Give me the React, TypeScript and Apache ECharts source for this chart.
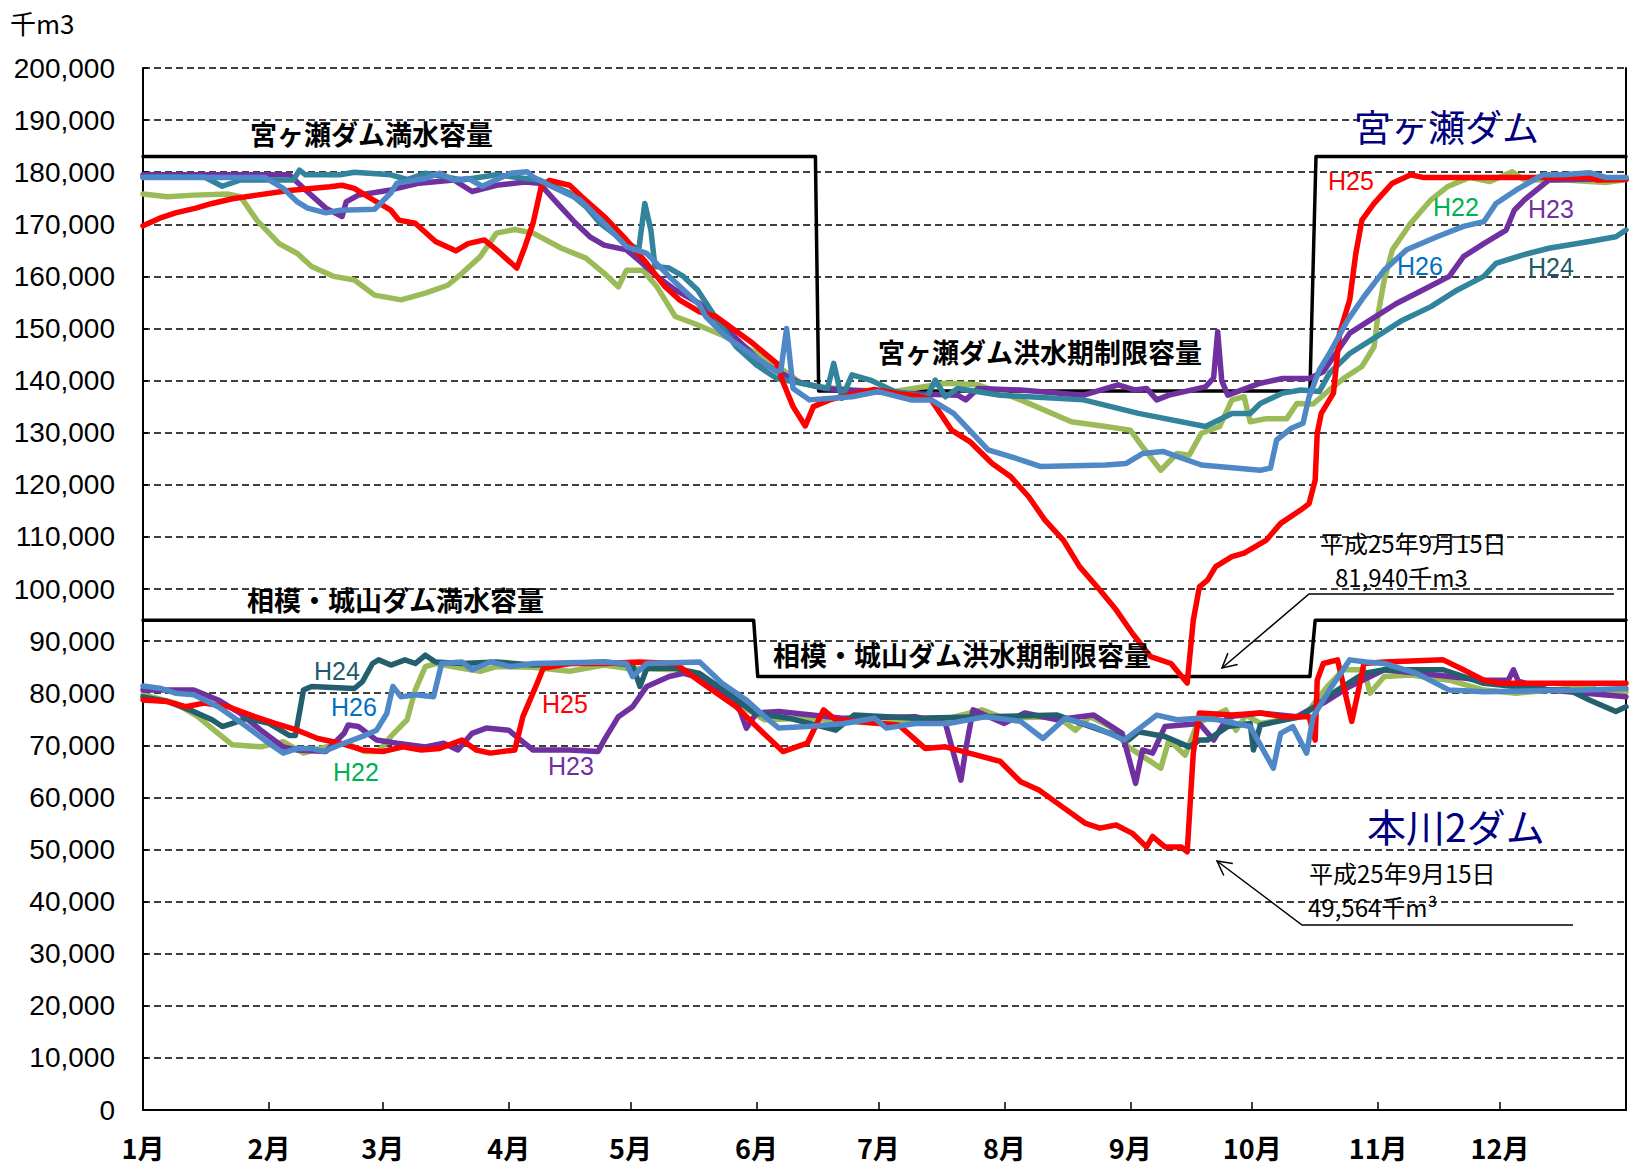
import React, { useEffect, useRef } from "react";
import * as echarts from "echarts";

// ---- axes ----
const MONTH_STARTS = [0, 31, 59, 90, 120, 151, 181, 212, 243, 273, 304, 334];
const MONTH_LABELS = ["1月", "2月", "3月", "4月", "5月", "6月", "7月", "8月", "9月", "10月", "11月", "12月"];
const X_MAX = 365;
const Y_MIN = 0;
const Y_MAX = 200000;
const Y_STEP = 10000;

// ---- capacity lines (千m3) ----
const miyagaseCapacity = [[0, 183000], [165.5, 183000], [166.3, 138000], [287.2, 138000], [288.7, 183000], [365, 183000]];
const honkawaCapacity = [[0, 94000], [150.3, 94000], [151.3, 83200], [287.2, 83200], [288.5, 94000], [365, 94000]];

// ---- 宮ヶ瀬ダム [day of year, 千m3] ----
const miyagaseH22 = [[0,175800],[6,175300],[12.5,175600],[21,175800],[24,175300],[28,170800],[33.5,166300],[38,164400],[41.5,161900],[47,160000],[52,159300],[57,156400],[63.5,155500],[69.5,156800],[75,158300],[78.5,160600],[83,163800],[87,168300],[91.5,169000],[96,168300],[103,165400],[109,163500],[113.5,160600],[117,158000],[119,161200],[123,161200],[126.5,158000],[131,152300],[135.5,151000],[143.5,148400],[154,144000],[162,139500],[166.5,138800],[174.5,138200],[185,137900],[197.5,139500],[205.5,139200],[216,136300],[228.5,132100],[237,131200],[243,130500],[246,127300],[250.5,122800],[254.5,126000],[257.5,125700],[260.5,129900],[265,131200],[268,136300],[271,136900],[272.5,132100],[276.5,132700],[281.5,132700],[284,135600],[288,135500],[292,138200],[296,140700],[300,142700],[303,146500],[304,152900],[305.5,159300],[307.5,165100],[312,170200],[317,174700],[321,177200],[326.5,179000],[331.5,178200],[337,180100],[340,178500],[350,178500],[360,178000],[365,178600]];
const miyagaseH23 = [[0,179500],[36,179500],[40,176600],[45,173100],[49,171500],[50,174300],[53,175600],[61,176600],[68,177900],[76.5,178500],[81,176300],[87,177500],[94,178100],[97.5,177900],[102,174000],[106.5,170200],[110,167600],[113.5,166000],[119,165100],[122,163100],[126.5,160000],[131,157400],[137,154800],[152,143600],[161,139800],[167.5,138500],[185,137600],[200.5,137200],[202.5,136300],[205.5,138500],[216,138200],[231.5,137200],[240,139200],[244,138200],[247,138500],[249.5,136300],[252.5,137200],[261.5,138800],[263.5,140500],[264.5,149400],[265.5,140000],[267,137200],[275,139500],[280.5,140400],[287,140400],[290.5,141700],[297,149100],[302,151600],[308.5,154800],[315,157400],[321.5,160000],[325,163800],[330,166300],[335.5,168900],[337.5,172700],[340,174700],[346,178500],[365,178800]];
const miyagaseH24 = [[0,179100],[15,179100],[19.5,177300],[24,178500],[31,178500],[37,178500],[38.5,180400],[40,179500],[48.5,179500],[52,180000],[61,179500],[65,178600],[69.5,179800],[78.5,178500],[87,179500],[94,178800],[97.5,178500],[105,176000],[109,173400],[112.5,170200],[118,167000],[122,165100],[123.5,174000],[125,168900],[126,161900],[129.5,161600],[133,160000],[136.5,157400],[141,152000],[146,146500],[151,143000],[156,140400],[164,139200],[168.5,138500],[170,143300],[172,136600],[174.5,141100],[179,140100],[185,137900],[193,136900],[195,140100],[197.5,136900],[200.5,138500],[211,137200],[231.5,136300],[245,133700],[261.5,131200],[268,133700],[272.5,133700],[275,135600],[280.5,137600],[285,138200],[289.5,137900],[292,141400],[297,145200],[303.5,148400],[310,151600],[317,154200],[323.5,157400],[330,160000],[333,162500],[339.5,164100],[346,165400],[356,166700],[362.5,167600],[365,168900]];
const miyagaseH25 = [[0,169700],[4.5,171300],[8,172200],[13,173100],[17,174000],[22,174900],[28,175600],[36,176500],[46,177200],[49,177500],[52,176900],[56,175000],[61,172700],[63,170800],[67,170200],[72,166700],[77,164900],[80,166300],[84,167000],[87,165100],[92,161600],[94,165700],[96,170200],[98,177200],[100,178400],[105,177500],[108,175300],[113.5,171500],[119,167000],[124,162500],[128.5,158000],[132,155500],[137,153200],[141,152300],[150,147200],[156,143300],[157,140700],[160,135000],[163,131300],[165,135000],[169,136300],[175,137500],[180,138300],[186,137500],[191,137000],[194,136300],[199,130500],[203.5,128300],[209,124100],[213.5,121600],[218,117700],[222,113200],[226.5,109400],[230.5,104300],[235.5,99800],[239.5,96000],[243.5,91500],[248,87000],[253,85700],[257,81940],[258.5,94000],[260,100400],[262,101700],[264,104300],[268,106200],[271,106900],[276.5,109400],[280,112600],[285,115200],[287,116400],[288.5,120900],[289,129900],[290,133700],[293,137600],[294.5,149100],[297,155500],[298.5,164400],[300,170800],[303,174000],[307.5,177900],[312,179500],[315,179000],[325,179000],[341,179000],[356,179000],[358,178500],[365,178600]];
const miyagaseH26 = [[0,179000],[30,179000],[34.5,176900],[38,174300],[40.5,173100],[45,172200],[48.5,172700],[57,172900],[61,176000],[62.5,177900],[69.5,178800],[73,179800],[76.5,178500],[80,178800],[83.5,177300],[90.5,179800],[94.5,180100],[96,179100],[100,177500],[107.5,174700],[113.5,170200],[119,165700],[124,164400],[129.5,160000],[137,154500],[138.5,152300],[143.5,148400],[156,141700],[157,142000],[158.4,150000],[160,138500],[164,136300],[174.5,136900],[181,137900],[189,136300],[194,136300],[199.5,133700],[208,126700],[216,124800],[221,123500],[237,123800],[242,124100],[246,126000],[251,126400],[260.5,123800],[275,122800],[277.5,123200],[279,128600],[282.5,130800],[285.5,131800],[287,136900],[289.5,142000],[292,145200],[296.5,151600],[300.5,156100],[305.5,161200],[311,165100],[318.5,167600],[325,169600],[330,170500],[333,174000],[338,176600],[344.5,179500],[349.5,179500],[356,179900],[360,179000],[365,179000]];

// ---- 本川2ダム (相模・城山) [day of year, 千m3] ----
const honkawaH22 = [[0,79700],[8,78100],[13.5,75500],[17.5,72900],[22,70100],[29,69700],[34.5,70700],[39.5,68500],[45,69700],[50,70400],[54.5,68800],[58,68800],[61,71700],[65,74900],[67,80600],[69.5,85100],[72,85700],[78.5,84800],[83,84200],[87,85100],[96,85000],[105,84200],[113.5,85400],[119,84800],[131,84500],[137,83300],[144,79300],[147.5,77400],[153,74900],[163.5,75200],[181,74200],[197,74900],[206.5,76800],[212,75200],[225,75500],[229.5,72900],[233,75500],[238,73600],[242.5,69700],[250.5,65600],[252.5,71000],[256.5,68100],[259.5,74200],[266.5,76800],[269,72900],[271.5,75800],[275,74200],[285.5,75500],[287,76800],[291.5,81300],[295.5,84500],[300.5,84500],[302,80000],[305.5,83200],[312,83500],[321.5,82500],[330,80600],[338,80000],[356,81300],[358,80600],[365,80300]];
const honkawaH23 = [[0,80600],[12.5,80600],[18.5,78700],[24,76100],[29,72900],[34.5,69700],[38,69100],[45,68800],[49.5,72300],[50.5,73900],[53,73600],[57.5,71000],[62.5,70400],[69.5,69700],[74,70400],[77.5,69100],[81,72300],[84.5,73300],[90,72900],[92.5,71300],[96,69100],[105,69100],[112,68800],[113.5,71000],[117,75500],[120.5,77400],[124,81300],[129.5,83200],[133,83800],[137,83000],[146,78700],[148.5,73300],[151,76200],[156.5,76500],[172,75200],[190,75500],[197.5,74200],[201.3,63300],[202.6,69700],[204.3,76800],[212,74200],[217,76200],[225,74900],[234,75800],[241,72300],[244.3,62700],[246,69100],[248.5,68500],[251.5,73600],[260,74200],[263.5,71000],[267,75500],[275,76200],[284,75500],[287,76800],[290.5,78100],[297,81300],[305.5,84500],[321.5,83200],[330,82500],[336,82500],[337.3,84500],[338.5,82300],[346,80600],[365,79300]];
const honkawaH24 = [[0,79300],[6,78400],[11.5,76800],[17,74900],[19.5,73600],[22,74200],[25.5,75200],[31,74200],[36,71900],[37.5,71900],[39.5,80600],[41.5,81300],[52,80900],[54,82200],[56.5,85700],[58,86400],[61,85400],[64.5,86400],[67,85700],[69.5,87300],[72,86000],[78.5,85700],[87,86000],[96,85400],[105,85700],[113.5,86000],[120.5,85400],[122.3,81300],[124,84800],[131,84800],[137,83800],[144,80000],[150.5,76200],[159,75200],[170.5,72900],[175,75800],[190,75200],[207.5,75500],[225,75800],[238,72300],[242.5,71000],[245,72600],[251.5,71700],[257.5,69700],[260,71000],[262,71000],[267,73600],[272.5,74200],[273.3,69100],[275,73900],[285,75500],[294,80600],[300.5,83800],[305.5,84500],[320,84500],[330,81900],[346,80600],[351,80600],[356,78700],[362.5,76500],[365,77400]];
const honkawaH25 = [[0,78700],[6,78400],[10.5,77400],[15,78100],[21,77400],[27.5,75500],[32.5,74200],[38,72900],[43,71300],[48.5,70400],[54,69100],[59,68800],[64,69700],[68.5,69100],[73,69400],[78.5,71000],[82,69100],[85.5,68500],[91.5,69100],[93.5,75500],[97,81900],[98.5,84800],[105,85700],[113.5,85700],[122,86000],[131,85700],[137,82300],[146,77400],[151,73600],[157.5,68800],[163.5,70400],[167.5,76800],[170.5,74900],[186,73900],[192.5,69400],[197.5,69700],[202,68800],[211,66900],[216,63000],[220.5,61400],[225,58900],[232,55000],[235.5,54100],[239.5,54700],[243.5,53100],[247,50500],[248.5,52500],[251.5,50500],[255.5,50500],[257,49564],[258.5,68500],[260,76200],[268,75800],[275,76200],[280.5,75500],[287,75500],[288.5,71000],[289,82500],[290.5,85700],[294,86400],[295.5,81300],[297.5,74600],[299,80000],[300.5,85700],[305.5,86000],[320,86400],[325,84500],[330,82500],[334,81900],[346,81900],[354.5,81900],[365,81900]];
const honkawaH26 = [[0,81400],[4.5,80900],[8,80000],[12.5,79700],[18.5,77400],[25.5,73600],[31,70400],[34.5,68500],[38,69400],[41.5,69400],[44.5,68800],[48.5,70100],[54,71700],[57.5,72900],[60,76100],[61.5,81300],[63.5,79300],[67,79700],[71.5,79300],[73.5,85700],[78.5,86000],[81,84500],[85.5,86000],[90.5,85100],[96,85700],[113.5,86000],[119,85700],[120.5,83200],[124,85700],[137,86000],[142.5,81900],[148.5,78700],[153,75500],[156.5,73300],[163.5,73600],[172.5,74200],[180,75200],[183,73300],[190,74200],[198.5,74200],[207.5,75500],[216,74600],[221.5,71300],[227,75200],[234,73600],[241.5,71000],[249.5,75800],[254.5,74900],[260,75200],[264.5,74900],[272.5,73600],[278.2,65600],[280,72300],[283,73600],[286.4,68500],[288,75500],[292,80600],[297,86400],[301,86000],[305.5,85700],[313.5,83800],[321.5,80600],[330,80300],[354.5,80600],[365,80900]];

const COLORS = {
  H22: "#9BBB59",
  H23: "#7030A0",
  H24: "#31849B",
  H24low: "#235F6D",
  H25: "#FF0000",
  H26: "#4F88C6",
};
const LABEL_COLORS = { H22: "#00B050", H23: "#7030A0", H24: "#215968", H25: "#FF0000", H26: "#0070C0" };

const JP = '"Noto Sans CJK JP", "Noto Sans", sans-serif';
const LAT = '"Liberation Sans", Arial, sans-serif';

function line(name: string, data: number[][], color: string, width: number, z: number) {
  return {
    type: "line",
    name,
    data,
    symbol: "none",
    showSymbol: false,
    silent: true,
    z,
    lineStyle: { color, width, cap: "round", join: "round" },
    itemStyle: { color },
  };
}

function text(t: string, x: number, y: number, font: string, fill: string, lh?: number) {
  const style: any = {
    text: t,
    font,
    fill,
    textAlign: "left",
    textVerticalAlign: "middle",
    align: "left",
    verticalAlign: "middle",
  };
  if (lh) style.lineHeight = lh;
  return { type: "text", x, y, silent: true, z: 100, style };
}

function arrowHead(tip: number[], from: number[], len = 16, deg = 28) {
  const dx = from[0] - tip[0];
  const dy = from[1] - tip[1];
  const d = Math.hypot(dx, dy);
  const ux = dx / d;
  const uy = dy / d;
  const a = (deg * Math.PI) / 180;
  const rot = (s: number) => [
    tip[0] + len * (ux * Math.cos(s * a) - uy * Math.sin(s * a)),
    tip[1] + len * (ux * Math.sin(s * a) + uy * Math.cos(s * a)),
  ];
  return {
    type: "polyline",
    silent: true,
    z: 100,
    shape: { points: [rot(1), tip, rot(-1)] },
    style: { stroke: "#000", lineWidth: 1.5, fill: null },
  };
}

function leader(points: number[][]) {
  return {
    type: "polyline",
    silent: true,
    z: 100,
    shape: { points },
    style: { stroke: "#000", lineWidth: 1.5, fill: null },
  };
}

export default function App() {
  const ref = useRef<HTMLDivElement>(null);

  useEffect(() => {
    if (!ref.current) return;
    const chart = echarts.init(ref.current, null, { renderer: "svg" });

    const boldJP = `bold 27px ${JP}`;
    const hFont = `25px ${LAT}`;
    const noteFont = `24px ${JP}`;
    const LW = 5.5;

    const up1: number[][] = [[1222, 668], [1309, 594], [1614, 594]];
    const up2: number[][] = [[1217, 861], [1302, 925], [1573, 925]];

    const option = {
      animation: false,
      backgroundColor: "#fff",
      grid: { left: 143, right: 7, top: 68, bottom: 65 },
      xAxis: {
        type: "value",
        min: 0,
        max: X_MAX,
        axisLine: { show: true, onZero: false, lineStyle: { color: "#000", width: 2 } },
        axisTick: {
          show: true,
          inside: true,
          length: 8,
          customValues: MONTH_STARTS,
          lineStyle: { color: "#000", width: 1.5 },
        },
        axisLabel: {
          show: true,
          customValues: MONTH_STARTS,
          margin: 24,
          color: "#000",
          fontFamily: JP,
          fontSize: 27,
          fontWeight: "bold",
          formatter: (v: number) => {
            const i = MONTH_STARTS.indexOf(Math.round(v));
            return i >= 0 ? MONTH_LABELS[i] : "";
          },
        },
        splitLine: { show: false },
      },
      yAxis: [
        {
          type: "value",
          min: Y_MIN,
          max: Y_MAX,
          interval: Y_STEP,
          axisLine: { show: true, lineStyle: { color: "#000", width: 2 } },
          axisTick: { show: true, inside: true, length: 5, lineStyle: { color: "#000", width: 1.5 } },
          axisLabel: {
            margin: 28,
            color: "#000",
            fontFamily: LAT,
            fontSize: 28,
            formatter: (v: number) => v.toLocaleString("en-US"),
          },
          splitLine: { show: true, lineStyle: { color: "#000", width: 1.5, type: [7, 4] } },
        },
        {
          type: "value",
          position: "right",
          min: Y_MIN,
          max: Y_MAX,
          interval: Y_STEP,
          axisLine: { show: true, lineStyle: { color: "#000", width: 2 } },
          axisTick: { show: false },
          axisLabel: { show: false },
          splitLine: { show: false },
        },
      ],
      series: [
        line("宮ヶ瀬ダム容量", miyagaseCapacity, "#000", 3.5, 2),
        line("本川2ダム容量", honkawaCapacity, "#000", 3.5, 2),
        line("宮ヶ瀬H22", miyagaseH22, COLORS.H22, LW, 3),
        line("宮ヶ瀬H23", miyagaseH23, COLORS.H23, LW, 4),
        line("宮ヶ瀬H24", miyagaseH24, COLORS.H24, LW, 5),
        line("宮ヶ瀬H25", miyagaseH25, COLORS.H25, LW, 6),
        line("宮ヶ瀬H26", miyagaseH26, COLORS.H26, LW, 7),
        line("本川H22", honkawaH22, COLORS.H22, LW, 3),
        line("本川H23", honkawaH23, COLORS.H23, LW, 4),
        line("本川H24", honkawaH24, COLORS.H24low, LW, 5),
        line("本川H25", honkawaH25, COLORS.H25, LW, 6),
        line("本川H26", honkawaH26, COLORS.H26, LW, 7),
      ],
      graphic: [
        text("千m3", 10, 22, `26px ${JP}`, "#000"),
        text("宮ヶ瀬ダム満水容量", 250, 133, boldJP, "#000"),
        text("宮ヶ瀬ダム洪水期制限容量", 878, 351, boldJP, "#000"),
        text("相模・城山ダム満水容量", 247, 599, boldJP, "#000"),
        text("相模・城山ダム洪水期制限容量", 773, 654, boldJP, "#000"),
        text("宮ヶ瀬ダム", 1354, 126, `37px ${JP}`, "#000080"),
        text("本川2ダム", 1367, 825, `39px ${JP}`, "#000080"),
        text("H25", 1328, 181, hFont, LABEL_COLORS.H25),
        text("H22", 1433, 207, hFont, LABEL_COLORS.H22),
        text("H23", 1528, 209, hFont, LABEL_COLORS.H23),
        text("H26", 1397, 266, hFont, LABEL_COLORS.H26),
        text("H24", 1528, 267, hFont, LABEL_COLORS.H24),
        text("H24", 314, 671, hFont, LABEL_COLORS.H24),
        text("H26", 331, 707, hFont, LABEL_COLORS.H26),
        text("H25", 542, 704, hFont, LABEL_COLORS.H25),
        text("H22", 333, 772, hFont, LABEL_COLORS.H22),
        text("H23", 548, 766, hFont, LABEL_COLORS.H23),
        text("平成25年9月15日", 1320, 542, noteFont, "#000", 26),
        text("81,940千m3", 1335, 576, noteFont, "#000", 26),
        text("平成25年9月15日", 1309, 872, noteFont, "#000", 26),
        text("49,564千m³", 1308, 906, noteFont, "#000", 26),
        leader(up1),
        arrowHead(up1[0], up1[1]),
        leader(up2),
        arrowHead(up2[0], up2[1]),
      ],
    };

    chart.setOption(option as any);
    return () => chart.dispose();
  }, []);

  return (
    <div
      ref={ref}
      style={{ position: "absolute", left: 0, top: 0, width: 1633, height: 1175, background: "#fff" }}
    />
  );
}
